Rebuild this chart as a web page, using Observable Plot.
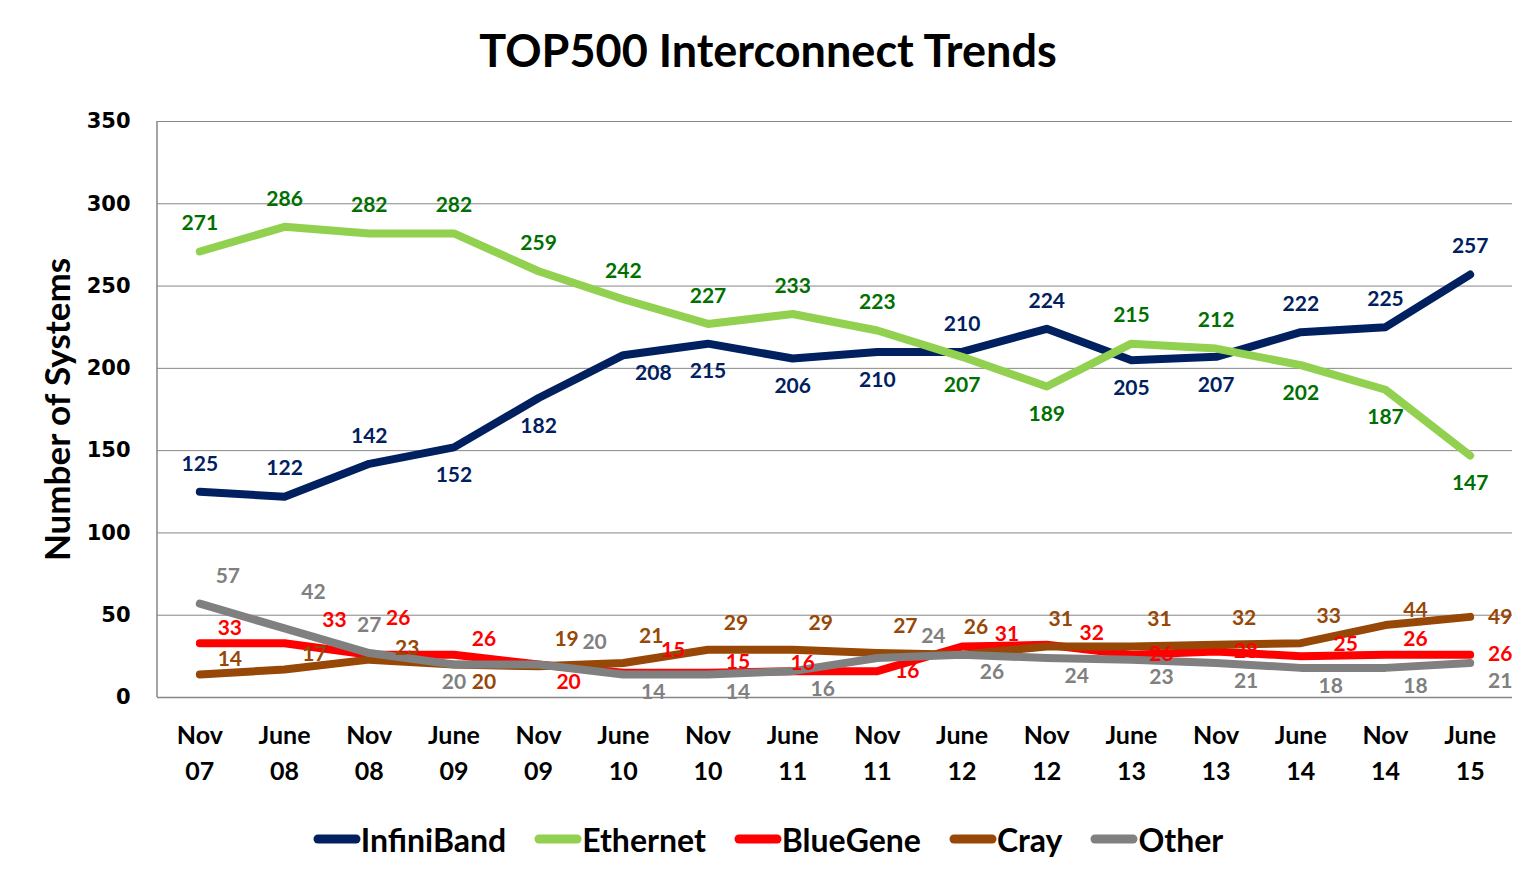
<!DOCTYPE html>
<html>
<head>
<meta charset="utf-8">
<script src="https://cdn.jsdelivr.net/npm/d3@7"></script>
<script src="https://cdn.jsdelivr.net/npm/@observablehq/plot@0.6"></script>
<style>
  html, body { margin: 0; padding: 0; background: #fff; }
  body { width: 1536px; height: 878px; overflow: hidden; font-family: Lato, "Open Sans", sans-serif; }
  #title { height: 100px; line-height: 100px; text-align: center; font-weight: 700; font-size: 45px; color: #000; }
  #chart { height: 700px; }
  #legend { display: flex; justify-content: center; align-items: center; height: 78px; gap: 28px; font-weight: 700; font-size: 32px; color: #000; padding-left: 0px; }
  .item { display: flex; align-items: center; }
  .item svg { margin-right: 0px; }
</style>
</head>
<body>
<div id="title">TOP500 Interconnect Trends</div>
<div id="chart"></div>
<div id="legend"></div>
<script>
// ---- data ----
const categories = ["Nov 07","June 08","Nov 08","June 09","Nov 09","June 10","Nov 10","June 11","Nov 11","June 12","Nov 12","June 13","Nov 13","June 14","Nov 14","June 15"];
const seriesNames = ["InfiniBand","Ethernet","BlueGene","Cray","Other"];
const infiniband = [125,122,142,152,182,208,215,206,210,210,224,205,207,222,225,257];
const ethernet   = [271,286,282,282,259,242,227,233,223,207,189,215,212,202,187,147];
const bluegene   = [33,33,26,26,20,15,15,16,16,31,32,26,28,25,26,26];
const cray       = [14,17,23,20,19,21,29,29,27,26,31,31,32,33,44,49];
const other      = [57,42,27,20,20,14,14,16,24,26,24,23,21,18,18,21];
const yTicks = [0,50,100,150,200,250,300,350];

// ---- styling ----
const lineColors  = ["#002060","#92D050","#FF0000","#974706","#808080"];
const labelColors = ["#002060","#007000","#FF0000","#974706","#808080"];
// data-label placement codes (like Excel's label position), per point
const labelPlacement = [
  ["T","T","T","B","B","BR","B","B","B","T","T","B","B","T","T","T"],
  ["T","T","T","T","T","T","T","T","T","B","B","T","T","B","B","B"],
  ["TR","TRW","TRV","TR","BR","TRW","RU","C","R","RW","RW","R","R","RW","TR","R"],
  ["TR","TR","TRL","BR","TRH","TRH","TRH","TRH","TRH","TH","TH","TRH","TRH","TRH","TR","R"],
  ["TRH","TRV","T","Bs","TRF","BR","BR","BR","TRF","BR","BR","BR","BR","BR","BR","BR"]
];
const placementOffsets = {
  T:   {dx: 0,  dy: -28},
  B:   {dx: 0,  dy: 28},
  Bs:  {dx: 0,  dy: 18},
  TR:  {dx: 30, dy: -15},
  TRL: {dx: 38, dy: -11},
  TRH: {dx: 28, dy: -27},
  TRV: {dx: 29, dy: -36},
  TRW: {dx: 50, dy: -23},
  TRF: {dx: 56, dy: -22},
  TH:  {dx: 14, dy: -27},
  BR:  {dx: 30, dy: 18},
  R:   {dx: 30, dy: 0},
  RU:  {dx: 30, dy: -11},
  RW:  {dx: 45, dy: -12},
  C:   {dx: 10, dy: -8}
};

const seriesValues = [infiniband, ethernet, bluegene, cray, other];
const rows = [];
seriesNames.forEach((s, si) => {
  categories.forEach((c, ci) => {
    rows.push({series: s, si, cat: c, value: seriesValues[si][ci], pos: labelPlacement[si][ci]});
  });
});

const labelFont = "Lato, 'Open Sans', sans-serif";
const labelMarks = [];
seriesNames.forEach((s, si) => {
  Object.entries(placementOffsets).forEach(([code, off]) => {
    const subset = rows.filter(r => r.si === si && r.pos === code);
    if (!subset.length) return;
    labelMarks.push(Plot.text(subset, {
      x: "cat", y: "value", text: d => String(d.value),
      dx: off.dx, dy: off.dy,
      fill: labelColors[si], fontSize: 21, fontWeight: 700, fontFamily: labelFont
    }));
  });
});

const chart = Plot.plot({
  width: 1536,
  height: 700,
  marginTop: 21,
  marginBottom: 103,
  marginLeft: 157,
  marginRight: 24,
  style: {background: "transparent"},
  x: {type: "point", domain: categories, padding: 0.5, round: false, label: null},
  y: {domain: [0, 350], label: null},
  color: {domain: seriesNames, range: lineColors},
  marks: [
    Plot.gridY(yTicks, {stroke: "#868686", strokeOpacity: 1, strokeWidth: 1}),
    Plot.ruleY([0], {stroke: "#868686", strokeWidth: 1.5}),
    Plot.axisY(yTicks, {tickSize: 0, tickPadding: 27, fontSize: 21, fontWeight: 700, fontFamily: "'DejaVu Sans', sans-serif", fill: "#000", label: null}),
    Plot.axisX({tickSize: 0, tickPadding: 21, fontSize: 25, fontWeight: 700, fontFamily: labelFont, fill: "#000", lineHeight: 1.45, tickFormat: d => d.replace(" ", "\n"), label: null}),
    Plot.text(["Number of Systems"], {frameAnchor: "left", textAnchor: "middle", rotate: -90, dx: -99, fontSize: 35, fontWeight: 700, fontFamily: labelFont, fill: "#000"}),
    Plot.line(rows, {x: "cat", y: "value", z: "series", stroke: "series", strokeWidth: 8, strokeLinecap: "round", strokeLinejoin: "round"}),
    ...labelMarks
  ]
});
const svgNS = "http://www.w3.org/2000/svg";
document.getElementById("chart").appendChild(chart);

// left vertical axis line, positioned from the y scale
{
  const ys = chart.scale("y");
  const line = document.createElementNS(svgNS, "line");
  line.setAttribute("x1", 157); line.setAttribute("x2", 157);
  line.setAttribute("y1", ys.apply(350)); line.setAttribute("y2", ys.apply(0));
  line.setAttribute("stroke", "#868686"); line.setAttribute("stroke-width", "1.5");
  chart.insertBefore(line, chart.firstChild.nextSibling);
}

// legend
const legend = document.getElementById("legend");
seriesNames.forEach((s, i) => {
  const item = document.createElement("div");
  item.className = "item";
  item.innerHTML = `<svg width="48" height="14"><line x1="5" y1="7" x2="43" y2="7" stroke="${lineColors[i]}" stroke-width="9" stroke-linecap="round"/></svg><span>${s}</span>`;
  legend.appendChild(item);
});
</script>
</body>
</html>
